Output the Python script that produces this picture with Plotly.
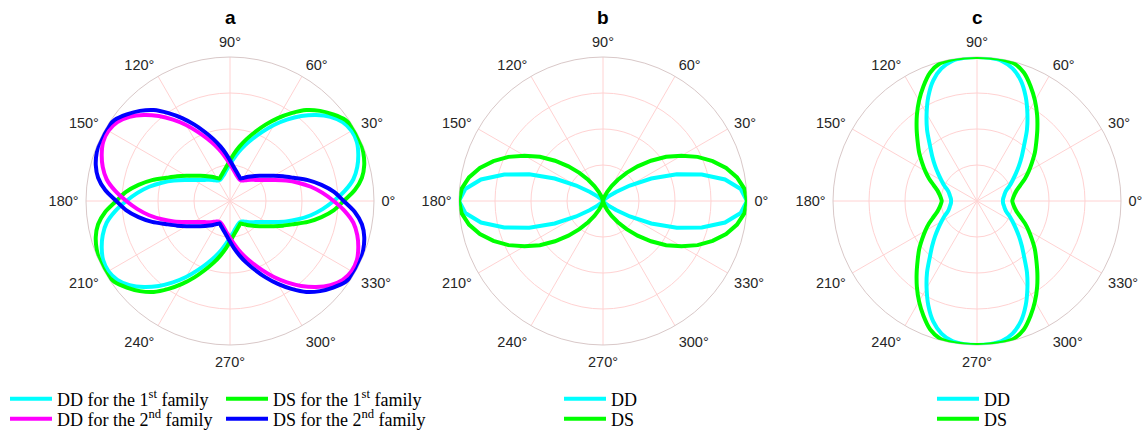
import plotly.graph_objects as go

# Sampling angles (degrees) shared by every curve
THETA = list(range(0, 360, 5))

# Panel a: directivity of the two families
DD_FAM1 = [0.72, 0.80, 0.87, 0.915, 0.948, 0.972, 0.975, 0.955, 0.91, 0.845, 0.77, 0.69,
           0.61, 0.53, 0.46, 0.40, 0.345, 0.295, 0.255, 0.225, 0.20, 0.182, 0.17, 0.163,
           0.165, 0.175, 0.19, 0.208, 0.228, 0.255, 0.29, 0.345, 0.415, 0.49, 0.57, 0.645,
           0.72, 0.80, 0.87, 0.915, 0.948, 0.972, 0.975, 0.955, 0.91, 0.845, 0.77, 0.69,
           0.61, 0.53, 0.46, 0.40, 0.345, 0.295, 0.255, 0.225, 0.20, 0.182, 0.17, 0.163,
           0.165, 0.175, 0.19, 0.208, 0.228, 0.255, 0.29, 0.345, 0.415, 0.49, 0.57, 0.645]
DS_FAM1 = [0.79, 0.87, 0.93, 0.965, 0.985, 0.996, 0.998, 0.98, 0.935, 0.885, 0.825, 0.745,
           0.665, 0.585, 0.51, 0.445, 0.385, 0.33, 0.281, 0.245, 0.219, 0.199, 0.184, 0.172,
           0.185, 0.203, 0.222, 0.245, 0.272, 0.307, 0.35, 0.405, 0.47, 0.56, 0.645, 0.725,
           0.79, 0.87, 0.93, 0.965, 0.985, 0.996, 0.998, 0.98, 0.935, 0.885, 0.825, 0.745,
           0.665, 0.585, 0.51, 0.445, 0.385, 0.33, 0.281, 0.245, 0.219, 0.199, 0.184, 0.172,
           0.185, 0.203, 0.222, 0.245, 0.272, 0.307, 0.35, 0.405, 0.47, 0.56, 0.645, 0.725]
DD_FAM2 = [0.72, 0.645, 0.57, 0.49, 0.415, 0.345, 0.29, 0.255, 0.228, 0.208, 0.19, 0.175,
           0.165, 0.163, 0.17, 0.182, 0.20, 0.225, 0.255, 0.295, 0.345, 0.40, 0.46, 0.53,
           0.61, 0.69, 0.77, 0.845, 0.91, 0.955, 0.975, 0.972, 0.948, 0.915, 0.87, 0.80,
           0.72, 0.645, 0.57, 0.49, 0.415, 0.345, 0.29, 0.255, 0.228, 0.208, 0.19, 0.175,
           0.165, 0.163, 0.17, 0.182, 0.20, 0.225, 0.255, 0.295, 0.345, 0.40, 0.46, 0.53,
           0.61, 0.69, 0.77, 0.845, 0.91, 0.955, 0.975, 0.972, 0.948, 0.915, 0.87, 0.80]
DS_FAM2 = [0.79, 0.725, 0.645, 0.56, 0.47, 0.405, 0.35, 0.307, 0.272, 0.245, 0.222, 0.203,
           0.185, 0.172, 0.184, 0.199, 0.219, 0.245, 0.281, 0.33, 0.385, 0.445, 0.51, 0.585,
           0.665, 0.745, 0.825, 0.885, 0.935, 0.98, 0.998, 0.996, 0.985, 0.965, 0.93, 0.87,
           0.79, 0.725, 0.645, 0.56, 0.47, 0.405, 0.35, 0.307, 0.272, 0.245, 0.222, 0.203,
           0.185, 0.172, 0.184, 0.199, 0.219, 0.245, 0.281, 0.33, 0.385, 0.445, 0.51, 0.585,
           0.665, 0.745, 0.825, 0.885, 0.935, 0.98, 0.998, 0.996, 0.985, 0.965, 0.93, 0.87]

# Panel b
DD_B = [1.0, 0.96, 0.86, 0.71, 0.545, 0.37, 0.215, 0.11, 0.05, 0.02, 0.007, 0.002,
        0.0, 0.0, 0.0, 0.0, 0.0, 0.0, 0.0,
        0.0, 0.0, 0.0, 0.0, 0.0, 0.0, 0.002, 0.007, 0.02, 0.05, 0.11, 0.215, 0.37,
        0.545, 0.71, 0.86, 0.96, 1.0,
        0.96, 0.86, 0.71, 0.545, 0.37, 0.215, 0.11, 0.05, 0.02, 0.007, 0.002,
        0.0, 0.0, 0.0, 0.0, 0.0, 0.0, 0.0,
        0.0, 0.0, 0.0, 0.0, 0.0, 0.0, 0.002, 0.007, 0.02, 0.05, 0.11, 0.215, 0.37,
        0.545, 0.71, 0.86, 0.96]
DS_B = [1.0, 0.985, 0.945, 0.885, 0.81, 0.725, 0.63, 0.535, 0.435, 0.34, 0.255, 0.18,
        0.12, 0.07, 0.035, 0.015, 0.005, 0.001, 0.0,
        0.001, 0.005, 0.015, 0.035, 0.07, 0.12, 0.18, 0.255, 0.34, 0.435, 0.535, 0.63,
        0.725, 0.81, 0.885, 0.945, 0.985, 1.0,
        0.985, 0.945, 0.885, 0.81, 0.725, 0.63, 0.535, 0.435, 0.34, 0.255, 0.18,
        0.12, 0.07, 0.035, 0.015, 0.005, 0.001, 0.0,
        0.001, 0.005, 0.015, 0.035, 0.07, 0.12, 0.18, 0.255, 0.34, 0.435, 0.535, 0.63,
        0.725, 0.81, 0.885, 0.945, 0.985]

# Panel c
DD_C = [0.18, 0.182, 0.19, 0.20, 0.217, 0.25, 0.285, 0.328, 0.38, 0.44, 0.51, 0.605,
        0.70, 0.80, 0.89, 0.953, 0.988, 0.998, 1.0,
        0.998, 0.988, 0.953, 0.89, 0.80, 0.70, 0.605, 0.51, 0.44, 0.38, 0.328, 0.285,
        0.25, 0.217, 0.20, 0.19, 0.182, 0.18,
        0.182, 0.19, 0.20, 0.217, 0.25, 0.285, 0.328, 0.38, 0.44, 0.51, 0.605,
        0.70, 0.80, 0.89, 0.953, 0.988, 0.998, 1.0,
        0.998, 0.988, 0.953, 0.89, 0.80, 0.70, 0.605, 0.51, 0.44, 0.38, 0.328, 0.285,
        0.25, 0.217, 0.20, 0.19, 0.182]
DS_C = [0.245, 0.252, 0.265, 0.285, 0.32, 0.367, 0.415, 0.466, 0.525, 0.583, 0.652, 0.728,
        0.805, 0.88, 0.95, 0.99, 1.0, 1.0, 1.0,
        1.0, 1.0, 0.99, 0.95, 0.88, 0.805, 0.728, 0.652, 0.583, 0.525, 0.466, 0.415,
        0.367, 0.32, 0.285, 0.265, 0.252, 0.245,
        0.252, 0.265, 0.285, 0.32, 0.367, 0.415, 0.466, 0.525, 0.583, 0.652, 0.728,
        0.805, 0.88, 0.95, 0.99, 1.0, 1.0, 1.0,
        1.0, 1.0, 0.99, 0.95, 0.88, 0.805, 0.728, 0.652, 0.583, 0.525, 0.466, 0.415,
        0.367, 0.32, 0.285, 0.265, 0.252]

ANGLE_TICKS = list(range(0, 360, 30))
ANGLE_LABELS = [f"{a}°" for a in ANGLE_TICKS]
RING_TICKS = [0.25, 0.5, 0.75]
PANEL_TITLES = ["a", "b", "c"]

CYAN, GREEN, MAGENTA, BLUE = "#00FFFF", "#00FF00", "#FF00FF", "#0000FF"
W, H = 1144, 432
RADIUS = 144
CENTERS = [(230, 201), (603, 201), (977, 201)]
ROW1, ROW2 = 399, 419


def closed(vals):
    return vals + vals[:1]


theta_c = closed(THETA)

fig = go.Figure()

legend_font = dict(family="Liberation Serif, Times New Roman, serif", size=18, color="black")
legends = {}


def add(r, name, color, subplot, legend, x_px, y_px, smooth=True):
    line = dict(color=color, width=4)
    if smooth:
        # lobes without repeated origin points can be drawn as smooth splines
        line.update(shape="spline", smoothing=0.8)
    fig.add_trace(go.Scatterpolar(
        r=closed(r), theta=theta_c, mode="lines", name=name,
        line=line, subplot=subplot, legend=legend,
    ))
    legends[legend] = dict(x=x_px / W, y=(H - y_px) / H, xanchor="left", yanchor="middle",
                           bgcolor="rgba(0,0,0,0)", borderwidth=0, font=legend_font,
                           itemwidth=42)


add(DD_FAM1, "DD for the 1<sup>st</sup> family", CYAN, "polar", "legend", 5, ROW1)
add(DS_FAM1, "DS for the 1<sup>st</sup> family", GREEN, "polar", "legend2", 221, ROW1)
add(DD_FAM2, "DD for the 2<sup>nd</sup> family", MAGENTA, "polar", "legend3", 5, ROW2)
add(DS_FAM2, "DS for the 2<sup>nd</sup> family", BLUE, "polar", "legend4", 221, ROW2)
add(DD_B, "DD", CYAN, "polar2", "legend5", 559, ROW1, smooth=False)
add(DS_B, "DS", GREEN, "polar2", "legend6", 559, ROW2, smooth=False)
add(DD_C, "DD", CYAN, "polar3", "legend7", 932, ROW1)
add(DS_C, "DS", GREEN, "polar3", "legend8", 932, ROW2)

GRID = "#FFD2D2"
RIM = "#D9C8C8"
tick_font = dict(family="Liberation Sans, Arial, sans-serif", size=14.5, color="#262626")


def polar_layout(cx, cy):
    return dict(
        domain=dict(x=[(cx - RADIUS) / W, (cx + RADIUS) / W],
                    y=[(H - cy - RADIUS) / H, (H - cy + RADIUS) / H]),
        bgcolor="white",
        radialaxis=dict(range=[0, 1], tickmode="array", tickvals=RING_TICKS,
                        showticklabels=False, ticks="", showline=False,
                        gridcolor=GRID, gridwidth=1, layer="below traces"),
        angularaxis=dict(rotation=0, direction="counterclockwise",
                         tickmode="array", tickvals=ANGLE_TICKS, ticktext=ANGLE_LABELS,
                         ticks="outside", ticklen=4, tickcolor="rgba(0,0,0,0)",
                         showline=True, linecolor=RIM, linewidth=1,
                         gridcolor=GRID, gridwidth=1, tickfont=tick_font,
                         layer="below traces"),
    )


annotations = []
for (cx, cy), t in zip(CENTERS, PANEL_TITLES):
    annotations.append(dict(
        text=f"<b>{t}</b>", x=cx / W, y=(H - 18) / H, xref="paper", yref="paper",
        xanchor="center", yanchor="middle", showarrow=False,
        font=dict(family="Liberation Sans, Arial, sans-serif", size=19, color="black"),
    ))

fig.update_layout(
    width=W, height=H,
    margin=dict(l=0, r=0, t=0, b=0, autoexpand=False),
    paper_bgcolor="white",
    polar=polar_layout(*CENTERS[0]),
    polar2=polar_layout(*CENTERS[1]),
    polar3=polar_layout(*CENTERS[2]),
    annotations=annotations,
    showlegend=True,
    **legends,
)

fig.write_html("out.html")
